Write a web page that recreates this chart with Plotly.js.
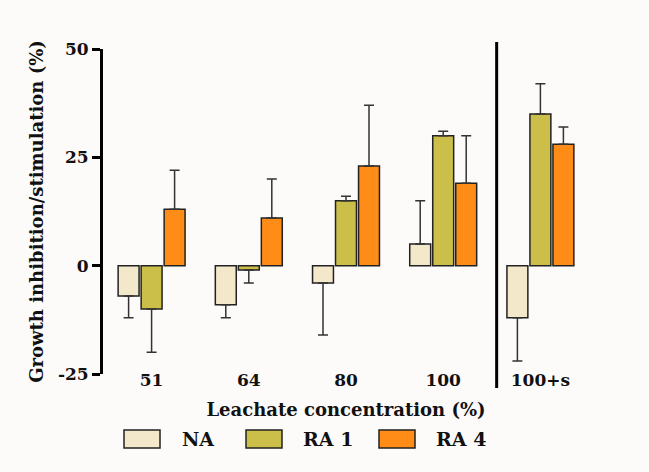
<!DOCTYPE html>
<html><head><meta charset="utf-8">
<script src="https://cdn.plot.ly/plotly-3.0.1.min.js"></script>
<style>html,body{margin:0;padding:0;background:#fdfbfa;}</style>
</head><body><div id="chart" style="width:649px;height:472px;"></div>
<script>
const categories = ['51', '64', '80', '100', '100+s'];
const seriesNames = ['NA', 'RA 1', 'RA 4'];
const naValues = [-7, -9, -4, 5, -12];
const naErrors = [5, 3, 12, 10, 10];
const ra1Values = [-10, -1, 15, 30, 35];
const ra1Errors = [10, 3, 1, 1, 7];
const ra4Values = [13, 11, 23, 19, 28];
const ra4Errors = [9, 9, 14, 11, 4];
const yTickValues = [-25, 0, 25, 50];
const seriesColors = ['#f3e8c9', '#cbbf4a', '#fe8c16'];

const FONT = '"DejaVu Serif", "Liberation Serif", serif';
const values = [naValues, ra1Values, ra4Values];
const errors = [naErrors, ra1Errors, ra4Errors];

const traces = values.map((v, i) => ({
  type: 'bar', name: seriesNames[i], x: categories, y: v,
  marker: {color: seriesColors[i], line: {color: '#222', width: 1.5}},
  error_y: {
    type: 'data', symmetric: false,
    array: v.map((val, k) => val >= 0 ? errors[i][k] : 0),
    arrayminus: v.map((val, k) => val < 0 ? errors[i][k] : 0),
    color: '#333', thickness: 1.5, width: 5
  },
  showlegend: false
}));

// plot area geometry (px) for paper-coordinate legend placement
const L = 103, T = 49, W = 486, H = 325;
const px = x => (x - L) / W;
const py = y => (T + H - y) / H;

const swatchLeft = [124, 246, 379];
const labelLeft = [180, 301, 434];
const shapes = [
  {type: 'line', xref: 'x', yref: 'paper', x0: 3.55, x1: 3.55, y0: py(388), y1: py(42),
   line: {color: '#000', width: 3}}
];
const annotations = [];
seriesNames.forEach((n, i) => {
  shapes.push({type: 'rect', xref: 'paper', yref: 'paper',
    x0: px(swatchLeft[i]), x1: px(swatchLeft[i] + 36), y0: py(448), y1: py(430),
    fillcolor: seriesColors[i], line: {color: '#222', width: 1.5}});
  annotations.push({xref: 'paper', yref: 'paper', x: px(labelLeft[i]), y: py(439),
    xanchor: 'left', yanchor: 'middle', text: n, showarrow: false,
    font: {family: FONT, size: 19, color: '#111', weight: 'bold'}});
});

const layout = {
  width: 649, height: 472,
  margin: {l: L, r: 649 - L - W, t: T, b: 472 - T - H},
  paper_bgcolor: '#fdfbfa', plot_bgcolor: '#fdfbfa',
  font: {family: FONT, color: '#111', weight: 'bold'},
  barmode: 'group', bargap: 0.29, bargroupgap: 0.09,
  xaxis: {
    type: 'category', categoryarray: categories, range: [-0.5, 4.5],
    anchor: 'free', position: 0.02,
    showline: false, ticks: '', showgrid: false, zeroline: false,
    tickfont: {family: FONT, size: 17, color: '#111', weight: 'bold'},
    title: {text: 'Leachate concentration (%)', standoff: 14,
      font: {family: FONT, size: 18, color: '#111', weight: 'bold'}}
  },
  xaxis2: {
    overlaying: 'x', anchor: 'free', position: 25 / 75,
    range: [-0.5, 4.5], tickvals: [0, 1, 2, 3, 4], showticklabels: false,
    showline: true, linecolor: '#000', linewidth: 2.5,
    ticks: 'outside', ticklen: 9, tickwidth: 3, tickcolor: '#000',
    showgrid: false, zeroline: false
  },
  yaxis: {
    range: [-25, 50], tickvals: yTickValues, ticktext: yTickValues.map(String),
    showline: true, linecolor: '#000', linewidth: 3,
    ticks: 'outside', ticklen: 8, tickwidth: 3, tickcolor: '#000',
    showgrid: false, zeroline: false,
    tickfont: {family: FONT, size: 17, color: '#111', weight: 'bold'},
    title: {text: 'Growth inhibition/stimulation (%)', standoff: 10,
      font: {family: FONT, size: 18, color: '#111', weight: 'bold'}}
  },
  shapes: shapes,
  annotations: annotations
};

Plotly.newPlot('chart', traces, layout, {displayModeBar: false, staticPlot: true});
</script></body></html>
